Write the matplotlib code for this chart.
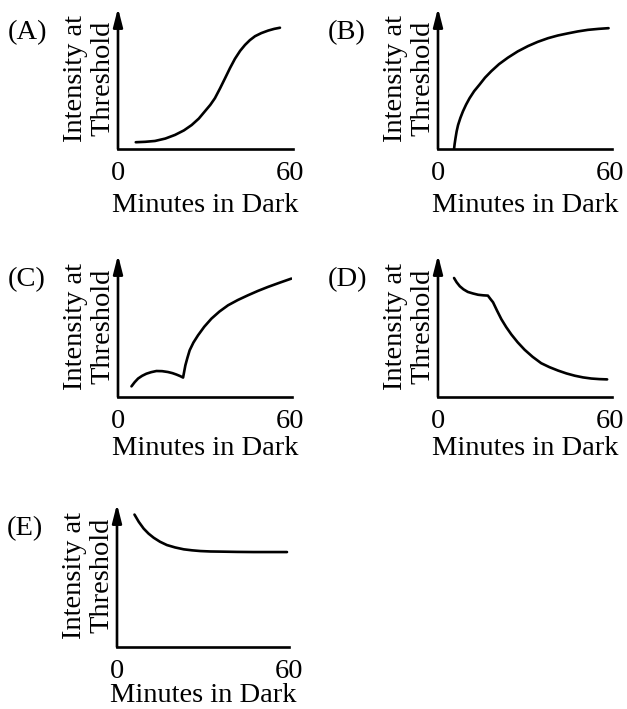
import matplotlib
matplotlib.use("Agg")
import matplotlib.pyplot as plt

plt.rcParams['font.family'] = ['Liberation Serif', 'DejaVu Serif']

# curves: minutes in dark -> intensity (0..100 of axis height)
a_t = [6.2, 9.5, 12.9, 16.5, 19.9, 23, 25.7, 28.2, 30.3, 32.2, 33.8, 35.6, 37.3, 39.1, 40.8, 42.6, 44.3, 46, 47.8, 50, 52.4, 54.5, 56.5]
a_v = [4.8, 5.1, 5.7, 7.4, 10, 13.2, 17, 21.6, 26.7, 31.3, 36, 43, 50, 57.5, 64, 69.6, 73.8, 77.2, 80, 82.2, 84, 85.2, 86]

b_t = [5.6, 5.8, 6.1, 6.5, 7, 7.8, 8.7, 9.8, 11, 12.6, 14.5, 16.4, 18.6, 21.3, 24.4, 27.8, 31.4, 34.8, 38.4, 41.8, 45.3, 48.8, 52.3, 56, 59.5]
b_v = [0, 3.5, 7.6, 12.5, 17, 22, 26.7, 31.5, 36, 41, 45.7, 50.6, 55.2, 60.2, 64.8, 69.2, 73, 76, 78.6, 80.5, 82, 83.4, 84.5, 85.2, 85.7]

c_t = [4.7, 5.8, 7, 8.4, 9.9, 11.6, 13.4, 15.4, 17.4, 19, 20.4, 21.6, 22.7,
       23.1, 23.5, 24.2, 25, 26.3, 27.9, 30.1, 32.6, 35.4, 38.4, 41.8, 45.3, 48.8, 52.3, 56.4, 60.5]
c_v = [7.5, 10.4, 13, 14.9, 16.4, 17.5, 18.3, 18.2, 17.6, 16.8, 15.8, 14.8, 13.7,
       18, 22.3, 27.5, 32.9, 38.3, 43.4, 49.5, 55.2, 60.2, 64.6, 68.3, 71.6, 74.7, 77.5, 80.5, 83.4]

d_t = [5.6, 6.5, 7.6, 8.9, 10.4, 12.2, 14, 15.8, 17.4,
       18.3, 19.2, 20.6, 22.1, 23.8, 25.6, 27.8, 30.2, 33, 36, 38.9, 41.9, 44.8, 47.7, 50.6, 53.5, 56.3, 59]
d_v = [83.8, 80.8, 78, 75.8, 74, 72.9, 72, 71.6, 71.4,
       69, 66.7, 60.8, 54.8, 49.2, 44, 38.5, 33.3, 28.3, 23.8, 21, 18.6, 16.6, 15, 13.8, 13, 12.6, 12.4]

e_t = [6.1, 7.6, 9.3, 11, 12.8, 15, 17.4, 20.3, 23.3, 26.2, 29.1, 32.6, 36.1, 41.9, 47.7, 53.5, 59.3]
e_v = [92.6, 87.5, 82.8, 79.3, 76.4, 73.6, 71.3, 69.6, 68.3, 67.6, 67.1, 66.8, 66.7, 66.5, 66.4, 66.4, 66.4]

labels = ["(A)", "(B)", "(C)", "(D)", "(E)"]
series = [(a_t, a_v), (b_t, b_v), (c_t, c_v), (d_t, d_v), (e_t, e_v)]

W, H = 627, 709
PX_PER_MIN = 172 / 60
# axes boxes in pixels: left, right, top, bottom, xlabel pad
boxes = [(118, 293, 8, 149, 5), (438, 612, 8, 149, 5), (118, 292, 255, 397, 1.3),
         (438, 612, 255, 397, 1.3), (117, 289, 504, 647, -0.8)]
FS = 20.5
LW = 1.9

fig = plt.figure(figsize=(W / 100, H / 100), dpi=100)

for (left, right, top, bottom, xpad), lab, (t, v) in zip(boxes, labels, series):
    ax = fig.add_axes([left / W, 1 - bottom / H, (right - left) / W, (bottom - top) / H])
    ax.plot(t, v, color='black', lw=LW, solid_capstyle='round', solid_joinstyle='round')
    ax.set_xlim(0, (right - left) / PX_PER_MIN)
    ax.set_ylim(0, 100)

    for s in ['top', 'right', 'left']:
        ax.spines[s].set_visible(False)
    ax.spines['bottom'].set_linewidth(LW)
    # y axis with arrow head
    ax.annotate('', xy=(0, 1), xytext=(0, 0), xycoords='axes fraction',
                arrowprops=dict(arrowstyle='-|>,head_length=1.1,head_width=0.28',
                                lw=LW, color='black', mutation_scale=10,
                                shrinkA=0, shrinkB=0))

    ax.set_yticks([])
    ax.set_xticks([0, 60])
    ax.set_xticklabels(['0', '60'], fontsize=FS)
    ax.tick_params(axis='x', length=0, pad=9)
    ax.set_xlabel("Minutes in Dark", fontsize=FS, labelpad=xpad)
    ax.set_ylabel("Intensity at\nThreshold", fontsize=FS, labelpad=2, linespacing=1.12)
    ax.patch.set_alpha(0)

    ax.text(-110 / (right - left), 1 - 25 / (bottom - top), lab, transform=ax.transAxes,
            ha='left', va='center', fontsize=FS)

fig.savefig("out.png", dpi=100)
